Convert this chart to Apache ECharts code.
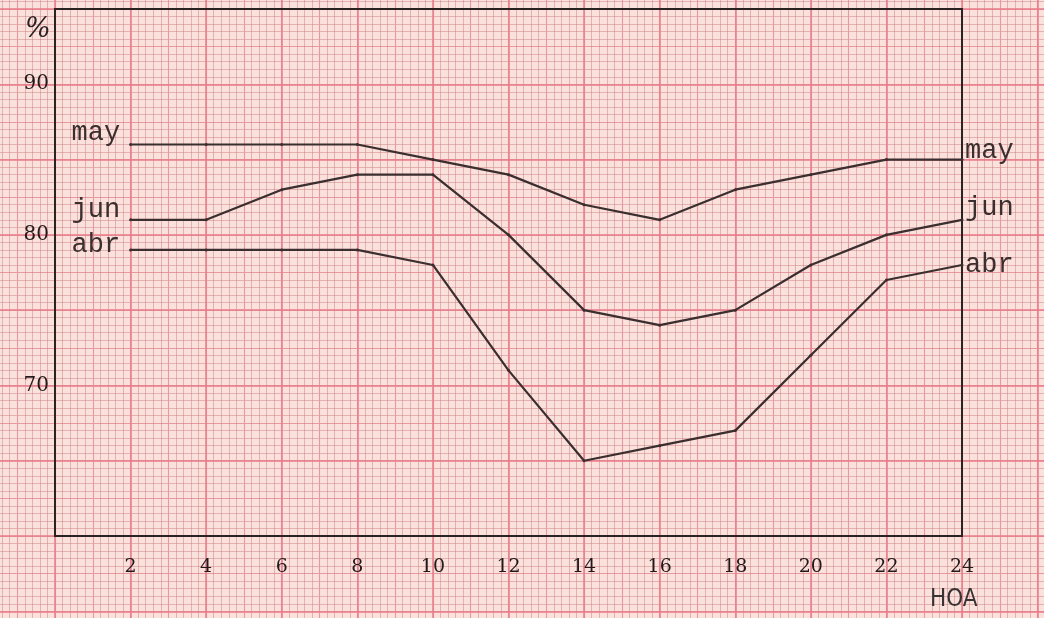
<!DOCTYPE html>
<html>
<head>
<meta charset="utf-8">
<script src="https://cdn.jsdelivr.net/npm/echarts@6/dist/echarts.min.js"></script>
<style>
  html, body { margin: 0; padding: 0; background: #fbe1dc; }
  #chart { width: 1044px; height: 618px; }
</style>
</head>
<body>
<div id="chart"></div>
<script>
// horas del dia (eje x)
var hours = [2, 4, 6, 8, 10, 12, 14, 16, 18, 20, 22, 24];
// porcentaje por mes
var may = [86, 86, 86, 86, 85, 84, 82, 81, 83, 84, 85, 85];
var jun = [81, 81, 83, 84, 84, 80, 75, 74, 75, 78, 80, 81];
var abr = [79, 79, 79, 79, 78, 71, 65, 66, 67, 72, 77, 78];
var yTickLabels = [70, 80, 90];

var ink = '#3a2e2e';
var monoFont = 'Liberation Mono';

function monthSeries(name, vals, leftDy, rightDy) {
    return {
        name: name,
        type: 'line',
        xAxisIndex: 0,
        yAxisIndex: 0,
        z: 5,
        symbol: 'circle',
        symbolSize: 3,
        itemStyle: { color: ink },
        animation: false,
        lineStyle: { color: ink, width: 2.2 },
        data: hours.map(function (h, i) {
            if (i === 0) {
                return {
                    value: [h, vals[i]],
                    label: {
                        show: true, position: 'left', distance: 9,
                        offset: [0, leftDy], formatter: name,
                        color: ink, fontFamily: monoFont, fontSize: 27
                    }
                };
            }
            return [h, vals[i]];
        }),
        endLabel: {
            show: true, distance: 3, offset: [0, rightDy], formatter: name,
            color: ink, fontFamily: monoFont, fontSize: 27
        }
    };
}

var chart = echarts.init(document.getElementById('chart'));
chart.setOption({
    backgroundColor: '#fbe1dc',
    animation: false,
    grid: [
        // grafico
        { left: 55, right: 82, top: 9, bottom: 82, outerBoundsMode: 'none',
          show: true, borderColor: '#2b2222', borderWidth: 2, z: 2 },
        // papel milimetrado, mas grande que el lienzo
        { left: -20.6, right: -69.2, top: -66.3, bottom: -68.6, outerBoundsMode: 'none',
          show: false, z: 0 }
    ],
    xAxis: [
        {
            gridIndex: 0, type: 'value', min: 0, max: 24, interval: 2, z: 2,
            axisLine: { show: false }, axisTick: { show: false }, splitLine: { show: false },
            axisLabel: { showMinLabel: false, margin: 22, color: '#221a1a', fontFamily: 'DejaVu Serif', fontSize: 19 }
        },
        {
            gridIndex: 1, type: 'value', min: -2, max: 28, interval: 1, z: 0,
            axisLine: { show: false }, axisTick: { show: false }, axisLabel: { show: false },
            splitLine: { show: true, lineStyle: { color: '#e69aa0', width: 1.1 } },
            minorTick: { show: false, splitNumber: 5 },
            minorSplitLine: { show: true, lineStyle: { color: 'rgba(200,120,125,0.45)', width: 1 } }
        },
        {
            gridIndex: 1, type: 'value', min: -2, max: 28, interval: 2, z: 1,
            axisLine: { show: false }, axisTick: { show: false }, axisLabel: { show: false },
            splitLine: { show: true, lineStyle: { color: '#e87b8b', width: 1.5 } }
        }
    ],
    yAxis: [
        {
            gridIndex: 0, type: 'value', min: 60, max: 95, interval: 10, z: 2,
            axisLine: { show: false }, axisTick: { show: false }, splitLine: { show: false },
            axisLabel: {
                margin: 6, color: '#221a1a', fontFamily: 'DejaVu Serif', fontSize: 20,
                padding: [0, 0, 12, 0],
                formatter: function (v) { return yTickLabels.indexOf(v) >= 0 ? String(v) : ''; }
            }
        },
        {
            gridIndex: 1, type: 'value', min: 50, max: 100, interval: 2.5, z: 0,
            axisLine: { show: false }, axisTick: { show: false }, axisLabel: { show: false },
            splitLine: { show: true, lineStyle: { color: '#e69aa0', width: 1.1 } },
            minorTick: { show: false, splitNumber: 5 },
            minorSplitLine: { show: true, lineStyle: { color: 'rgba(200,120,125,0.45)', width: 1 } }
        },
        {
            gridIndex: 1, type: 'value', min: 50, max: 100, interval: 5, z: 1,
            axisLine: { show: false }, axisTick: { show: false }, axisLabel: { show: false },
            splitLine: { show: true, lineStyle: { color: '#e87b8b', width: 1.5 } }
        }
    ],
    graphic: [
        { type: 'text', left: 25, top: 16, z: 10,
          style: { text: '%', fill: '#2a2222', font: 'italic 27px "DejaVu Serif"' } },
        { type: 'text', left: 930, top: 588, z: 10,
          style: { text: 'HOA', fill: '#3a3333', font: '24px "DejaVu Sans Condensed", "Liberation Sans Narrow", "DejaVu Sans"' } }
    ],
    series: [
        monthSeries('may', may, -12, -9),
        monthSeries('jun', jun, -10, -12),
        monthSeries('abr', abr, -5, 0)
    ]
});
</script>
</body>
</html>
